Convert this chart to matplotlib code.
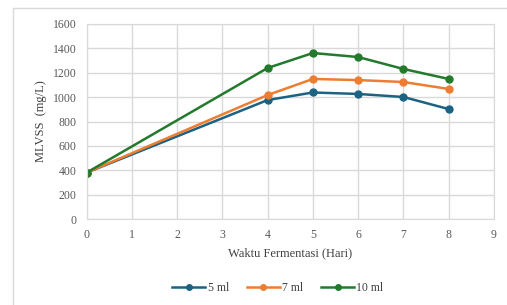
import matplotlib
matplotlib.use('Agg')
import matplotlib.pyplot as plt
from matplotlib.patches import Rectangle

# MLVSS over fermentation time for three dose volumes
days = [0, 4, 5, 6, 7, 8]
mlvss_5ml = [380, 976, 1038, 1026, 1001, 902]
mlvss_7ml = [380, 1017, 1149, 1140, 1124, 1067]
mlvss_10ml = [380, 1239, 1362, 1329, 1231, 1149]
labels = ['5 ml', '7 ml', '10 ml']
colors = ['#1b6283', '#ed7d31', '#237a2c']

plt.rcParams['font.family'] = ['Liberation Serif', 'DejaVu Serif']

fig = plt.figure(figsize=(5.07, 3.05), dpi=100)
fig.patches.append(Rectangle((13/507, -0.1), 1.0, 1 - 8/305 + 0.1,
                             transform=fig.transFigure, fill=False,
                             edgecolor='#d9d9d9', linewidth=1))
ax = fig.add_axes([86.5/507, 1 - 219/305, (494 - 86.5)/507, (219 - 24)/305])

for ys, lab, c in zip([mlvss_5ml, mlvss_7ml, mlvss_10ml], labels, colors):
    ax.plot(days, ys, color=c, marker='o', markersize=5, linewidth=1.8, label=lab)

ax.set_xlim(0, 9)
ax.set_ylim(0, 1600)
ax.set_xticks(range(0, 10))
ax.set_yticks(range(0, 1601, 200))
ax.grid(True, color='#d9d9d9', linewidth=1)
ax.set_axisbelow(True)
for s in ax.spines.values():
    s.set_color('#d9d9d9')
ax.tick_params(length=0, labelsize=8.5, labelcolor='#595959', pad=7)
ax.set_xlabel('Waktu Fermentasi (Hari)', fontsize=9, color='#404040', labelpad=5)
ax.set_ylabel('MLVSS  (mg/L)', fontsize=9, color='#404040', labelpad=4)

ax.legend(loc='upper center', bbox_to_anchor=(0.47, -0.27), ncol=3, frameon=False,
          fontsize=8.5, handlelength=2.8, columnspacing=1.5, handletextpad=0.2,
          markerscale=0.8, labelcolor='#404040')

fig.savefig('out.png', dpi=100)
